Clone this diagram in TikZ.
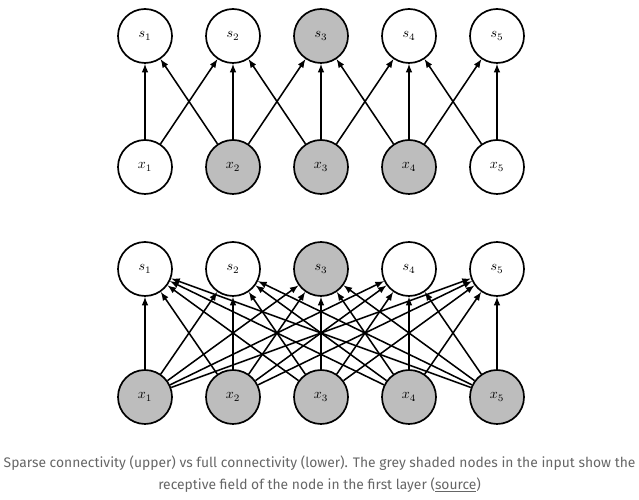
\documentclass[tikz,border=0pt]{standalone}
\usepackage{fontspec}
\newfontfamily\captionfont{Fira Sans}
\definecolor{fieldgray}{HTML}{BDBDBD}
\definecolor{captiongray}{HTML}{666666}
\begin{document}
\begin{tikzpicture}[thick]
  \tikzstyle{unit}=[draw,circle,fill=white,minimum size=1.35cm,inner sep=0pt,font=\normalsize,line width=1.2pt]
  \tikzstyle{field}=[unit,fill=fieldgray]
  \tikzstyle{conn}=[->,>=latex,line width=1.1pt]
  \useasboundingbox (0,0) rectangle (15.975,12.475);
  % Sparse connectivity (upper)
  \foreach \i/\kind in {1/unit,2/unit,3/field,4/unit,5/unit}
    \node[\kind] (us\i) at ({1.425+2.2*\i},11.575) {$s_{\i}$};
  \foreach \i/\kind in {1/unit,2/field,3/field,4/field,5/unit}
    \node[\kind] (ux\i) at ({1.425+2.2*\i},8.3) {$x_{\i}$};
  \foreach \from/\to in {1/1,1/2,2/1,2/2,2/3,3/2,3/3,3/4,4/3,4/4,4/5,5/4,5/5}
    \draw[conn] (ux\from) -- (us\to);

  % Full connectivity (lower)
  \foreach \i/\kind in {1/unit,2/unit,3/field,4/unit,5/unit}
    \node[\kind] (ls\i) at ({1.425+2.2*\i},5.75) {$s_{\i}$};
  \foreach \i in {1,...,5}
    \node[field] (lx\i) at ({1.425+2.2*\i},2.55) {$x_{\i}$};
  \foreach \from in {1,...,5}
    \foreach \to in {1,...,5}
      \draw[conn] (lx\from) -- (ls\to);

  \node[font=\captionfont\fontsize{9.85}{15.6}\selectfont,text=captiongray,align=center] (caption) at (7.99,0.625)
    {Sparse connectivity (upper) vs full connectivity (lower). The grey shaded nodes in the input show the\\
     receptive field of the node in the first layer (\underline{source})};
\end{tikzpicture}
\end{document}
